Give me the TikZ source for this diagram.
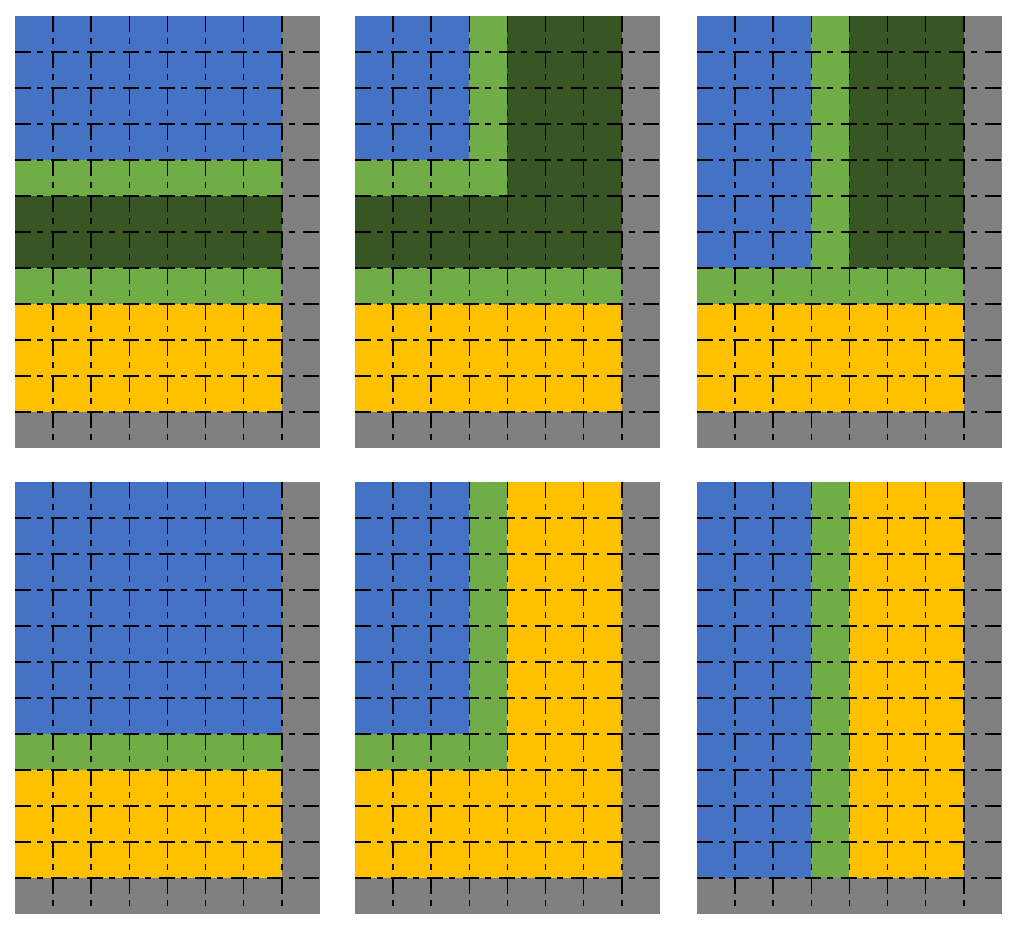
\documentclass[tikz,border=0pt]{standalone}
\definecolor{cblue}{HTML}{4472C4}
\definecolor{cgreen}{HTML}{70AD47}
\definecolor{cdark}{HTML}{375623}
\definecolor{cyell}{HTML}{FFC000}
\definecolor{cgray}{HTML}{808080}
\tikzset{gridline/.style={black,line width=1.6bp,dash pattern=on 16bp off 6bp on 6bp off 8bp}}
% \cellfill{color}{x0}{y0}{c1}{r1}{c2}{r2}: fill columns c1..c2-1, rows r1..r2-1
\newcommand{\cellfill}[7]{\fill[#1] ({#2+#4*38.1},{#3+#5*36}) rectangle ({#2+#6*38.1},{#3+#7*36});}
\newcommand{\panelgrid}[2]{%
  \foreach \c in {1,...,7} {\draw[gridline] ({#1+\c*38.1},#2) -- ({#1+\c*38.1},{#2+432});}
  \foreach \r in {1,...,11} {\draw[gridline] (#1,{#2+\r*36}) -- ({#1+304.8},{#2+\r*36});}
}
\begin{document}
\begin{tikzpicture}[x=1bp,y=-1bp]
\useasboundingbox (0,0) rectangle (1018,930);
% panel 1
\def\X{15}\def\Y{16}
\cellfill{cgray}{\X}{\Y}{0}{0}{8}{12}
\cellfill{cblue}{\X}{\Y}{0}{0}{7}{4}
\cellfill{cgreen}{\X}{\Y}{0}{4}{7}{5}
\cellfill{cdark}{\X}{\Y}{0}{5}{7}{7}
\cellfill{cgreen}{\X}{\Y}{0}{7}{7}{8}
\cellfill{cyell}{\X}{\Y}{0}{8}{7}{11}
\panelgrid{\X}{\Y}
% panel 2
\def\X{355}\def\Y{16}
\cellfill{cgray}{\X}{\Y}{0}{0}{8}{12}
\cellfill{cblue}{\X}{\Y}{0}{0}{3}{4}
\cellfill{cgreen}{\X}{\Y}{3}{0}{4}{5}
\cellfill{cgreen}{\X}{\Y}{0}{4}{4}{5}
\cellfill{cdark}{\X}{\Y}{4}{0}{7}{7}
\cellfill{cdark}{\X}{\Y}{0}{5}{4}{7}
\cellfill{cgreen}{\X}{\Y}{0}{7}{7}{8}
\cellfill{cyell}{\X}{\Y}{0}{8}{7}{11}
\panelgrid{\X}{\Y}
% panel 3
\def\X{697}\def\Y{16}
\cellfill{cgray}{\X}{\Y}{0}{0}{8}{12}
\cellfill{cblue}{\X}{\Y}{0}{0}{3}{7}
\cellfill{cgreen}{\X}{\Y}{3}{0}{4}{7}
\cellfill{cdark}{\X}{\Y}{4}{0}{7}{7}
\cellfill{cgreen}{\X}{\Y}{0}{7}{7}{8}
\cellfill{cyell}{\X}{\Y}{0}{8}{7}{11}
\panelgrid{\X}{\Y}
% panel 4
\def\X{15}\def\Y{482}
\cellfill{cgray}{\X}{\Y}{0}{0}{8}{12}
\cellfill{cblue}{\X}{\Y}{0}{0}{7}{7}
\cellfill{cgreen}{\X}{\Y}{0}{7}{7}{8}
\cellfill{cyell}{\X}{\Y}{0}{8}{7}{11}
\panelgrid{\X}{\Y}
% panel 5
\def\X{355}\def\Y{482}
\cellfill{cgray}{\X}{\Y}{0}{0}{8}{12}
\cellfill{cblue}{\X}{\Y}{0}{0}{3}{7}
\cellfill{cgreen}{\X}{\Y}{3}{0}{4}{8}
\cellfill{cgreen}{\X}{\Y}{0}{7}{4}{8}
\cellfill{cyell}{\X}{\Y}{4}{0}{7}{11}
\cellfill{cyell}{\X}{\Y}{0}{8}{4}{11}
\panelgrid{\X}{\Y}
% panel 6
\def\X{697}\def\Y{482}
\cellfill{cgray}{\X}{\Y}{0}{0}{8}{12}
\cellfill{cblue}{\X}{\Y}{0}{0}{3}{11}
\cellfill{cgreen}{\X}{\Y}{3}{0}{4}{11}
\cellfill{cyell}{\X}{\Y}{4}{0}{7}{11}
\panelgrid{\X}{\Y}
\end{tikzpicture}
\end{document}
